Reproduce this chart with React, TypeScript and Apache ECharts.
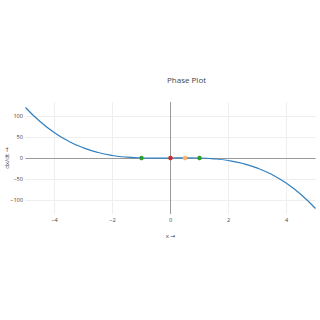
import React, { useEffect, useRef } from "react";
import * as echarts from "echarts";

const xValues = [-5, -4.5, -4, -3.5, -3, -2.5, -2, -1.5, -1, -0.5, 0, 0.5, 1, 1.5, 2, 2.5, 3, 3.5, 4, 4.5, 5];
const dxdtValues = [120, 86.6, 60, 39.4, 24, 13.1, 6, 1.9, 0, -0.4, 0, 0.4, 0, -1.9, -6, -13.1, -24, -39.4, -60, -86.6, -120];
const pointX = [-1, 0, 0.5, 1];
const pointY = [0, 0, 0, 0];
const pointColors = ["#2ca02c", "#d62728", "#ffb26b", "#2ca02c"];
const xTicks = [-4, -2, 0, 2, 4];
const yTicks = [-100, -50, 0, 50, 100];

const fmt = (v: number) => String(v).replace("-", "\u2212");

export default function App() {
  const ref = useRef<HTMLDivElement>(null);
  useEffect(() => {
    const chart = echarts.init(ref.current!, undefined, { renderer: "svg" });
    const font = "'Open Sans', 'DejaVu Sans', sans-serif";
    chart.setOption({
      animation: false,
      backgroundColor: "#ffffff",
      title: {
        text: "Phase Plot",
        left: 167,
        top: 75.5,
        padding: 0,
        textStyle: { fontFamily: font, fontSize: 8, fontWeight: "normal", color: "#444" },
      },
      grid: { left: 25.5, right: 4.5, top: 102, bottom: 106, containLabel: false, outerBoundsMode: "none" },
      xAxis: {
        type: "value",
        min: -5,
        max: 5,
        name: "x \u2192",
        nameLocation: "middle",
        nameGap: 18.5,
        nameMoveOverlap: false,
        nameTextStyle: { fontFamily: font, fontSize: 6, color: "#444" },
        axisLine: { show: false },
        axisTick: { show: false },
        splitLine: { show: false },
        axisLabel: {
          customValues: xTicks,
          fontFamily: font,
          fontSize: 5.6,
          color: "#444",
          margin: 3,
          formatter: (v: number) => fmt(v),
        },
      },
      yAxis: {
        type: "value",
        min: -133,
        max: 133,
        name: "dx/dt \u2192",
        nameLocation: "middle",
        nameGap: 16,
        nameRotate: 90,
        nameMoveOverlap: false,
        nameTextStyle: { fontFamily: font, fontSize: 6, color: "#444" },
        axisLine: { show: false },
        axisTick: { show: false },
        splitLine: { show: false },
        axisLabel: {
          customValues: yTicks,
          fontFamily: font,
          fontSize: 5.6,
          color: "#444",
          margin: 2.5,
          formatter: (v: number) => fmt(v),
        },
      },
      series: [
        {
          type: "line",
          data: [],
          silent: true,
          z: 1,
          markLine: {
            silent: true,
            z: 1,
            symbol: "none",
            label: { show: false },
            lineStyle: { color: "#eeeeee", width: 1, type: "solid" },
            data: [
              ...xTicks.filter((t) => t !== 0).map((t) => ({ xAxis: t })),
              ...yTicks.filter((t) => t !== 0).map((t) => ({ yAxis: t })),
            ],
          },
        },
        {
          type: "line",
          data: [],
          silent: true,
          z: 2,
          markLine: {
            silent: true,
            z: 2,
            symbol: "none",
            label: { show: false },
            lineStyle: { color: "#9a9a9a", width: 1, type: "solid" },
            data: [{ xAxis: 0 }, { yAxis: 0 }],
          },
        },
        {
          type: "line",
          data: xValues.map((x, i) => [x, dxdtValues[i]]),
          smooth: true,
          showSymbol: false,
          silent: true,
          lineStyle: { color: "#2f7fbf", width: 1.2 },
          z: 3,
        },
        {
          type: "scatter",
          data: pointX.map((x, i) => ({
            value: [x, pointY[i]],
            itemStyle: { color: pointColors[i], borderWidth: 0, opacity: 1 },
          })),
          symbol: "circle",
          symbolSize: 4.5,
          silent: true,
          z: 4,
        },
      ],
    });
    return () => chart.dispose();
  }, []);
  return (
    <div
      ref={ref}
      style={{ position: "fixed", left: 0, top: 0, width: 320, height: 320, background: "#fff" }}
    />
  );
}
